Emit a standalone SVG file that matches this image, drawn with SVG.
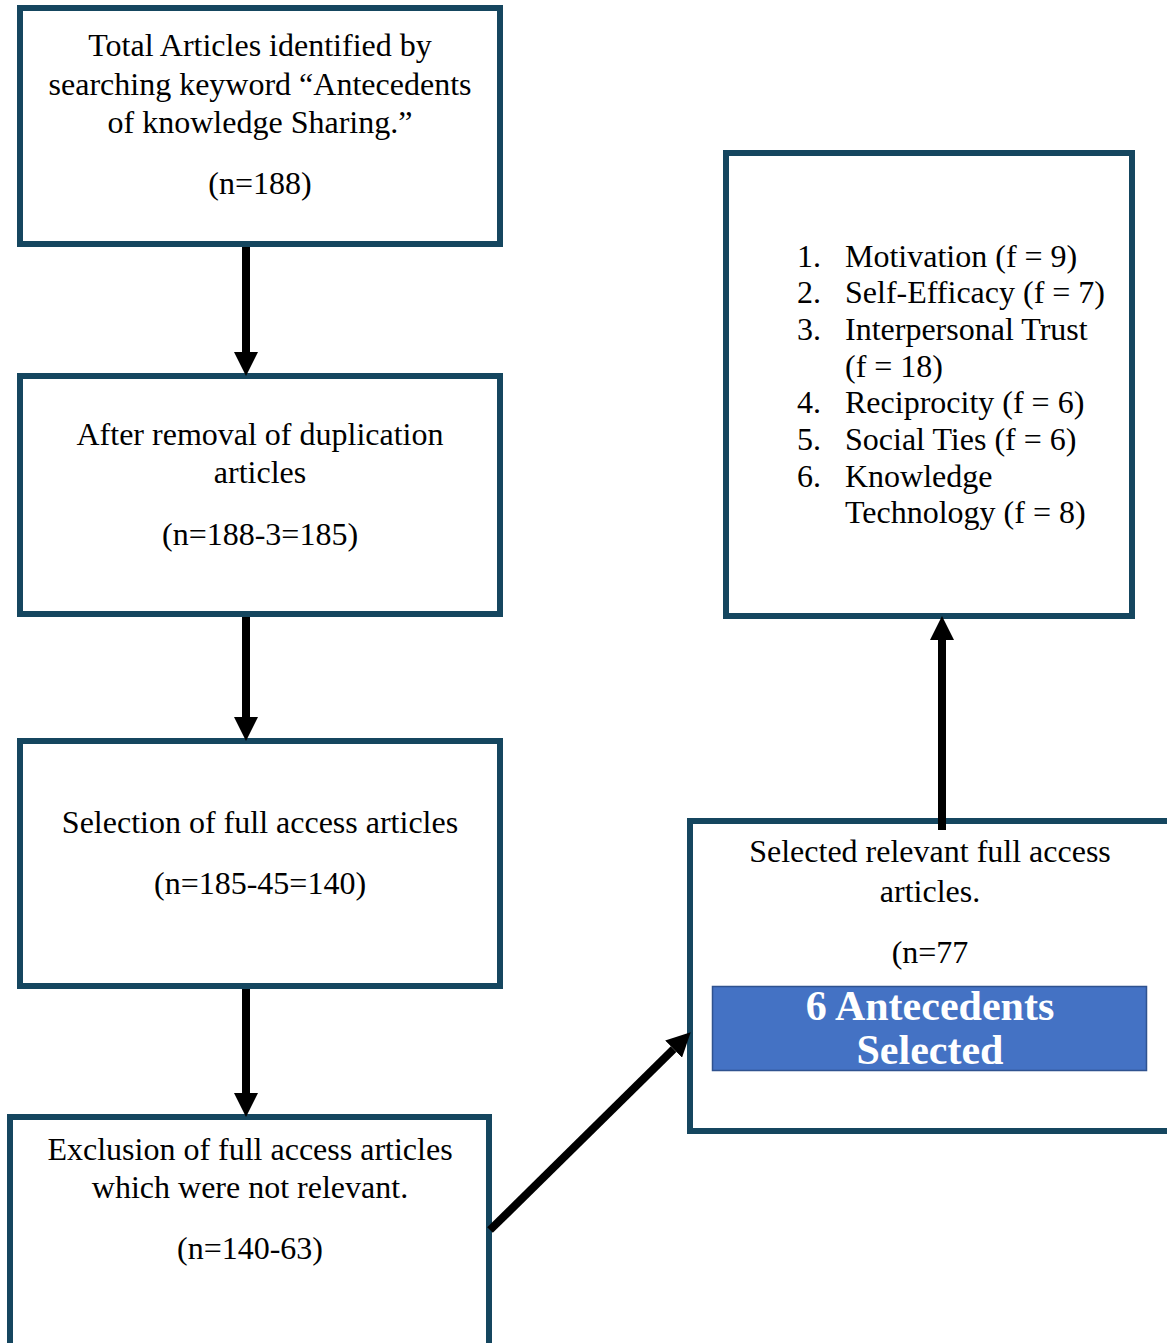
<svg xmlns="http://www.w3.org/2000/svg" width="1167" height="1343" viewBox="0 0 1167 1343">
  <style>
    .box { fill: #ffffff; stroke: #15465F; stroke-width: 6; }
    .txt { font-family: "Liberation Serif", "Times New Roman", serif; font-size: 32px; fill: #000000; }
    .mid { text-anchor: middle; }
    .conn { stroke: #000000; stroke-width: 8; fill: none; }
    .badge { fill: #4472C4; stroke: #2F528F; stroke-width: 1.5; }
    .badge-txt { font-family: "Liberation Serif", "Times New Roman", serif; font-size: 42px; font-weight: bold; fill: #ffffff; text-anchor: middle; }
  </style>
  <defs>
    <marker id="head" viewBox="0 0 24 24" refX="0" refY="12" markerWidth="24" markerHeight="24" markerUnits="userSpaceOnUse" orient="auto">
      <path d="M0,0 L24,12 L0,24 Z" fill="#000000"/>
    </marker>
  </defs>

  <rect width="1167" height="1343" fill="#ffffff"/>

  <g id="identified">
    <rect class="box" x="20" y="8" width="480" height="236"/>
    <text class="txt mid" x="260" y="56">Total Articles identified by</text>
    <text class="txt mid" x="260" y="95">searching keyword “Antecedents</text>
    <text class="txt mid" x="260" y="133">of knowledge Sharing.”</text>
    <text class="txt mid" x="260" y="194">(n=188)</text>
  </g>

  <g id="deduplicated">
    <rect class="box" x="20" y="376" width="480" height="238"/>
    <text class="txt mid" x="260" y="445">After removal of duplication</text>
    <text class="txt mid" x="260" y="483">articles</text>
    <text class="txt mid" x="260" y="545">(n=188-3=185)</text>
  </g>

  <g id="full-access">
    <rect class="box" x="20" y="741" width="480" height="245"/>
    <text class="txt mid" x="260" y="833">Selection of full access articles</text>
    <text class="txt mid" x="260" y="894">(n=185-45=140)</text>
  </g>

  <g id="excluded">
    <rect class="box" x="10" y="1117" width="479" height="240"/>
    <text class="txt mid" x="250" y="1160">Exclusion of full access articles</text>
    <text class="txt mid" x="250" y="1198">which were not relevant.</text>
    <text class="txt mid" x="250" y="1259">(n=140-63)</text>
  </g>

  <g id="selected">
    <rect class="box" x="690" y="821" width="490" height="310"/>
    <text class="txt mid" x="930" y="862">Selected relevant full access</text>
    <text class="txt mid" x="930" y="902">articles.</text>
    <text class="txt mid" x="930" y="963">(n=77</text>
    <rect class="badge" x="712.5" y="986.5" width="434" height="84"/>
    <text class="badge-txt" x="930" y="1020">6 Antecedents</text>
    <text class="badge-txt" x="930" y="1064">Selected</text>
  </g>

  <g id="antecedents">
    <rect class="box" x="726" y="153" width="406" height="463"/>
    <g class="txt">
      <text x="797" y="267">1.</text><text x="845" y="267">Motivation (f = 9)</text>
      <text x="797" y="303">2.</text><text x="845" y="303">Self-Efficacy (f = 7)</text>
      <text x="797" y="340">3.</text><text x="845" y="340">Interpersonal Trust</text>
      <text x="845" y="377">(f = 18)</text>
      <text x="797" y="413">4.</text><text x="845" y="413">Reciprocity (f = 6)</text>
      <text x="797" y="450">5.</text><text x="845" y="450">Social Ties (f = 6)</text>
      <text x="797" y="487">6.</text><text x="845" y="487">Knowledge</text>
      <text x="845" y="523">Technology (f = 8)</text>
    </g>
  </g>

  <g id="connectors">
    <line class="conn" x1="246" y1="247" x2="246" y2="352" marker-end="url(#head)"/>
    <line class="conn" x1="246" y1="617" x2="246" y2="717" marker-end="url(#head)"/>
    <line class="conn" x1="246" y1="989" x2="246" y2="1093" marker-end="url(#head)"/>
    <line class="conn" x1="490" y1="1230" x2="673.6" y2="1049.1" marker-end="url(#head)"/>
    <line class="conn" x1="942" y1="830" x2="942" y2="640" marker-end="url(#head)"/>
  </g>
</svg>
